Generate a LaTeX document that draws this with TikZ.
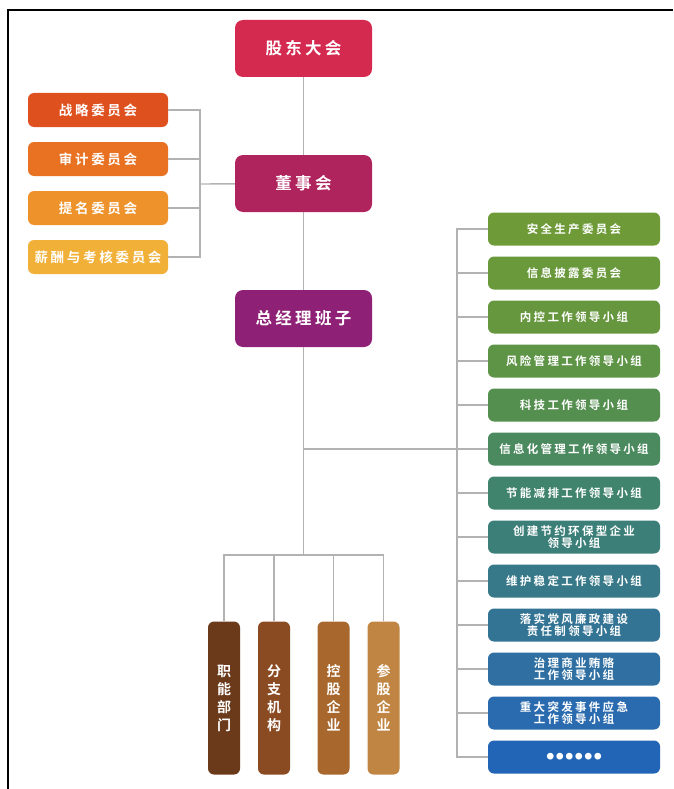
\documentclass[tikz,border=0pt]{standalone}
\usepackage{fontspec}
\newfontfamily\cjk{Noto Sans CJK SC}[LetterSpace=20,BoldFont={Noto Sans CJK SC Bold}]
% box colours
\definecolor{topA}{HTML}{D42A50}
\definecolor{topB}{HTML}{B0245E}
\definecolor{topC}{HTML}{8E2075}
\definecolor{lA}{HTML}{DE501E}
\definecolor{lB}{HTML}{E87222}
\definecolor{lC}{HTML}{EE932C}
\definecolor{lD}{HTML}{F1B038}
\definecolor{rA}{HTML}{6E9B38}
\definecolor{rB}{HTML}{6A993C}
\definecolor{rC}{HTML}{66973F}
\definecolor{rD}{HTML}{5E9446}
\definecolor{rE}{HTML}{558F50}
\definecolor{rF}{HTML}{4A8A5E}
\definecolor{rG}{HTML}{40846E}
\definecolor{rH}{HTML}{3B7F78}
\definecolor{rI}{HTML}{377988}
\definecolor{rJ}{HTML}{337494}
\definecolor{rK}{HTML}{2F6FA2}
\definecolor{rL}{HTML}{2A6AAE}
\definecolor{rM}{HTML}{2265B6}
\definecolor{bA}{HTML}{6B3A1A}
\definecolor{bB}{HTML}{8A4B22}
\definecolor{bC}{HTML}{A8672C}
\definecolor{bD}{HTML}{C08542}
\begin{document}
\begin{tikzpicture}
[x=1pt,y=-1pt,%
  linkLine/.style={draw=gray!60,line width=1.4pt},%
  topBox/.style={shape=rectangle,rounded corners=8pt,minimum width=137pt,minimum height=57pt,text=white,font=\cjk\bfseries\fontsize{16.5}{18}\selectfont},%
  leftBox/.style={shape=rectangle,rounded corners=6pt,minimum width=140pt,minimum height=34pt,text=white,font=\cjk\bfseries\fontsize{13.5}{15}\selectfont},%
  rightBox/.style={shape=rectangle,rounded corners=6pt,minimum width=172pt,minimum height=33pt,inner sep=1pt,align=center,text=white,font=\cjk\bfseries\fontsize{11.5}{12.5}\selectfont},%
  bottomBox/.style={shape=rectangle,rounded corners=6pt,minimum width=32pt,minimum height=153pt,inner sep=1pt,align=center,text=white,font=\cjk\bfseries\fontsize{14}{18}\selectfont}]
\useasboundingbox (0,0) rectangle (673,789);
%% frame
\draw[line width=2.5pt] (8,789) -- (8,10) -- (673,10);
%% main column
\node (gd) at (303.5,48.5) [topBox,fill=topA] {股东大会};
\node (ds) at (303.5,183.5) [topBox,fill=topB] {董事会};
\node (zj) at (303.5,318.5) [topBox,fill=topC] {总经理班子};
%% committees of the board
\foreach \i/\txt/\col in {1/战略委员会/lA, 2/审计委员会/lB, 3/提名委员会/lC, 4/薪酬与考核委员会/lD}
{
  \node (l\i) at (98,{61+49*\i}) [leftBox,fill=\col] {\txt};
}
%% leading groups
\foreach \i/\txt/\col in {1/安全生产委员会/rA, 2/信息披露委员会/rB, 3/内控工作领导小组/rC,
  4/风险管理工作领导小组/rD, 5/科技工作领导小组/rE, 6/信息化管理工作领导小组/rF,
  7/节能减排工作领导小组/rG, 8/创建节约环保型企业\\领导小组/rH, 9/维护稳定工作领导小组/rI,
  10/落实党风廉政建设\\责任制领导小组/rJ, 11/治理商业贿赂\\工作领导小组/rK,
  12/重大突发事件应急\\工作领导小组/rL, 13/{\fontsize{7.5}{9}\selectfont ●\kern2pt●\kern2pt●\kern2pt●\kern2pt●\kern2pt●}/rM}
{
  \node (r\i) at (574,{185+44*\i}) [rightBox,fill=\col] {\txt};
}
%% units
\foreach \i/\txt/\x/\col in {1/职\\能\\部\\门/224/bA, 2/分\\支\\机\\构/274/bB,
  3/控\\股\\企\\业/333.5/bC, 4/参\\股\\企\\业/383.5/bD}
{
  \node (b\i) at (\x,698) [bottomBox,fill=\col] {\txt};
}
%% junctions
\coordinate (lbus) at (200,184);
\coordinate (rj) at (303.5,449);
\coordinate (rbus) at (457,449);
\coordinate (bbus) at (303.5,555);
%% lines
\draw[linkLine] (gd) -- (ds);
\draw[linkLine] (ds) -- (zj);
\draw[linkLine] (zj) -- (bbus);
\draw[linkLine] (lbus) -- (ds);
\draw[linkLine] (rj) -- (rbus);
\foreach \i in {1,...,4}
{
  \draw[linkLine] (l\i) -| (lbus);
  \draw[linkLine] (b\i) |- (bbus);
}
\foreach \i in {1,...,13}
{
  \draw[linkLine] (r\i) -| (rbus);
}
\end{tikzpicture}
\end{document}
